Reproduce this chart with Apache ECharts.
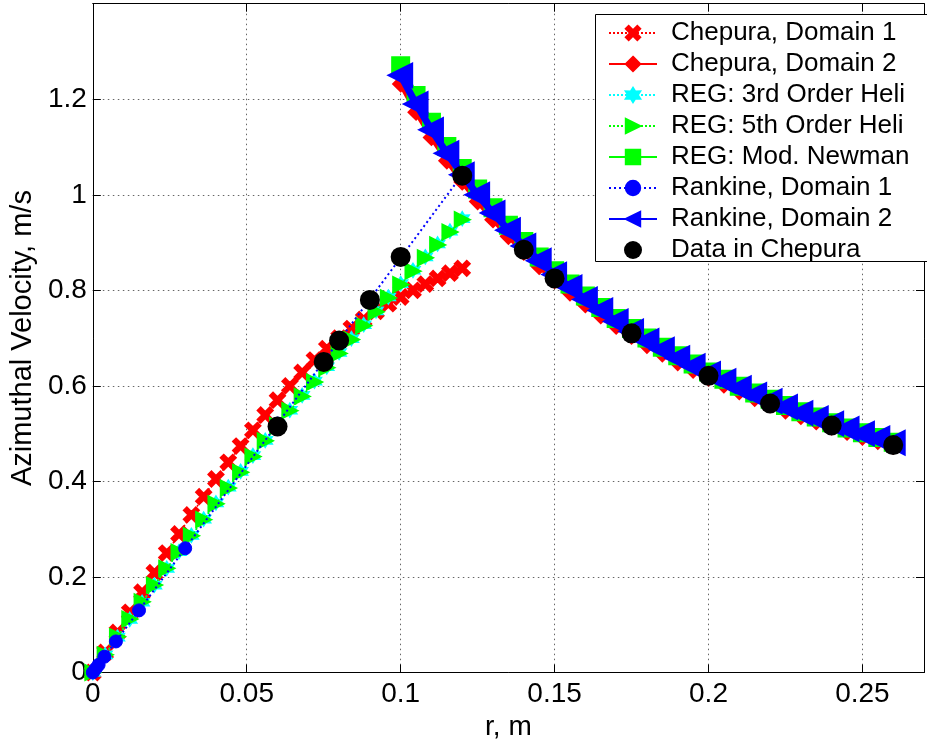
<!DOCTYPE html>
<html><head><meta charset="utf-8">
<script src="https://cdn.jsdelivr.net/npm/echarts@6/dist/echarts.min.js"></script>
<style>html,body{margin:0;padding:0;background:#fff}#c{width:927px;height:749px}</style>
</head><body><div id="c"></div>
<script>
// ---- data ----
const rDomain1 = [0,0.004,0.008,0.012,0.016,0.02,0.024,0.028,0.032,0.036,0.04,0.044,0.048,0.052,0.056,0.06,0.064,0.068,0.072,0.076,0.08,0.084,0.088,0.092,0.096,0.1,0.104,0.108,0.112,0.116,0.12];
const chepuraD1 = [0,0.042,0.084,0.126,0.168,0.209,0.25,0.29,0.33,0.368,0.405,0.44,0.474,0.507,0.539,0.57,0.6,0.628,0.654,0.678,0.7,0.72,0.739,0.756,0.772,0.786,0.8,0.813,0.825,0.836,0.846];
const heli3 = [0,0.037,0.074,0.111,0.147,0.183,0.218,0.253,0.287,0.321,0.355,0.388,0.421,0.454,0.486,0.518,0.549,0.58,0.61,0.64,0.67,0.699,0.728,0.757,0.786,0.814,0.842,0.87,0.897,0.924,0.95];
const heli5 = [0,0.037,0.075,0.112,0.148,0.183,0.218,0.252,0.286,0.32,0.353,0.386,0.419,0.452,0.485,0.517,0.548,0.578,0.608,0.638,0.668,0.697,0.726,0.755,0.784,0.812,0.84,0.868,0.895,0.922,0.948];
const rRankine1 = [0,0.0009375,0.001875,0.00375,0.0075,0.015,0.03,0.06,0.12];
const rankineD1 = [0,0.008,0.016,0.033,0.065,0.13,0.26,0.521,1.042];
const rDomain2 = [0.1,0.105,0.11,0.115,0.12,0.125,0.13,0.135,0.14,0.145,0.15,0.155,0.16,0.165,0.17,0.175,0.18,0.185,0.19,0.195,0.2,0.205,0.21,0.215,0.22,0.225,0.23,0.235,0.24,0.245,0.25,0.255,0.26];
const chepuraD2 = [1.232,1.173,1.12,1.071,1.027,0.986,0.948,0.913,0.88,0.85,0.821,0.795,0.77,0.747,0.725,0.704,0.685,0.667,0.649,0.633,0.617,0.602,0.588,0.574,0.561,0.548,0.536,0.525,0.514,0.503,0.493,0.484,0.474];
const newman = [1.27,1.208,1.152,1.101,1.055,1.012,0.973,0.936,0.902,0.87,0.841,0.813,0.788,0.764,0.741,0.72,0.7,0.681,0.663,0.646,0.629,0.614,0.599,0.585,0.572,0.559,0.546,0.535,0.523,0.512,0.502,0.492,0.482];
const rankineD2 = [1.25,1.19,1.136,1.087,1.042,1.0,0.962,0.926,0.893,0.862,0.833,0.806,0.781,0.758,0.735,0.714,0.694,0.676,0.658,0.641,0.625,0.61,0.595,0.581,0.568,0.556,0.543,0.532,0.521,0.51,0.5,0.49,0.481];
const rData = [0.06,0.075,0.08,0.09,0.1,0.12,0.14,0.15,0.175,0.2,0.22,0.24,0.26];
const vData = [0.515,0.65,0.695,0.78,0.87,1.04,0.885,0.825,0.71,0.621,0.563,0.517,0.476];
const seriesNames = ['Chepura, Domain 1','Chepura, Domain 2','REG: 3rd Order Heli','REG: 5th Order Heli','REG: Mod. Newman','Rankine, Domain 1','Rankine, Domain 2','Data in Chepura'];
const xTicks = [0,0.05,0.1,0.15,0.2,0.25];
const yTicks = [0,0.2,0.4,0.6,0.8,1,1.2];

const pairs = (xs, ys) => xs.map((x, i) => [x, ys[i]]);
const FONT = 'Liberation Sans, Arial, Helvetica, sans-serif';
const X_PATH = 'path://M0,2 L2,0 L5,3 L8,0 L10,2 L7,5 L10,8 L8,10 L5,7 L2,10 L0,8 L3,5 Z';
const HEX_PATH = 'path://M5,0 L6.4,2.6 L9.3,2.5 L7.9,5 L9.3,7.5 L6.4,7.4 L5,10 L3.6,7.4 L0.7,7.5 L2.1,5 L0.7,2.5 L3.6,2.6 Z';
const near = (v, list) => list.some(t => Math.abs(t - v) < 1e-6);
const fmt = v => String(parseFloat(v.toFixed(3)));

const chart = echarts.init(document.getElementById('c'), null, {renderer: 'canvas'});
const axisCommon = {
  axisLine: {show: true, onZero: false, lineStyle: {color: '#000', width: 1}},
  axisTick: {show: true, inside: true, length: 8, lineStyle: {color: '#000'}},
};
const solid = (c, bw) => ({color: c, borderColor: c, borderWidth: bw, opacity: 1});
chart.setOption({
  animation: false,
  backgroundColor: '#fff',
  grid: {left: 91, right: -16, top: 3.7, bottom: 76.5, containLabel: false},
  graphic: [{
    type: 'rect', left: 595, top: 14, z: 50,
    shape: {width: 400, height: 247},
    style: {fill: '#fff', stroke: '#000', lineWidth: 1}
  }],
  xAxis: [{
    type: 'value', min: 0, max: 0.27, interval: 0.05, position: 'bottom',
    name: 'r, m', nameLocation: 'middle', nameGap: 38,
    nameTextStyle: {fontFamily: FONT, fontSize: 28, color: '#000'},
    ...axisCommon,
    axisLabel: {fontFamily: FONT, fontSize: 28, color: '#000', margin: 8,
      formatter: v => near(v, xTicks) ? fmt(v) : ''},
    splitLine: {show: true, lineStyle: {color: '#666', type: [1.5, 3.5], width: 1}}
  }, {
    type: 'value', min: 0, max: 0.27, interval: 0.05, position: 'top',
    ...axisCommon, axisLabel: {show: false}, splitLine: {show: false}
  }],
  yAxis: [{
    type: 'value', min: 0, max: 1.4, interval: 0.2, position: 'left',
    name: 'Azimuthal Velocity, m/s', nameLocation: 'middle', nameGap: 45, nameRotate: 90,
    nameTextStyle: {fontFamily: FONT, fontSize: 29, color: '#000'},
    ...axisCommon,
    axisLabel: {fontFamily: FONT, fontSize: 28, color: '#000', margin: 6,
      formatter: v => near(v, yTicks) ? fmt(v) : ''},
    splitLine: {show: true, lineStyle: {color: '#666', type: [1.5, 3.5], width: 1}}
  }, {
    type: 'value', min: 0, max: 1.4, interval: 0.2, position: 'right',
    ...axisCommon, axisLabel: {show: false}, splitLine: {show: false}
  }],
  legend: {
    orient: 'vertical', left: 595, top: 14, z: 60,
    data: seriesNames,
    backgroundColor: 'transparent', borderWidth: 0,
    padding: [6, 10, 6, 13], itemGap: 5, itemWidth: 48, itemHeight: 18,
    textStyle: {fontFamily: FONT, fontSize: 26, lineHeight: 25, color: '#000', padding: [0, 0, 0, 9]}
  },
  series: [
    {name: seriesNames[0], type: 'line', z: 2, data: pairs(rDomain1, chepuraD1),
      symbol: X_PATH, symbolSize: 15, showAllSymbol: true,
      lineStyle: {color: '#ff0000', width: 1.5, type: [2, 2]}, itemStyle: solid('#ff0000', 2)},
    {name: seriesNames[1], type: 'line', z: 3, data: pairs(rDomain2, chepuraD2),
      symbol: 'diamond', symbolSize: 15, showAllSymbol: true,
      lineStyle: {color: '#ff0000', width: 5}, itemStyle: solid('#ff0000', 2)},
    {name: seriesNames[2], type: 'line', z: 4, data: pairs(rDomain1, heli3),
      symbol: HEX_PATH, symbolSize: 13, showAllSymbol: true,
      lineStyle: {color: '#00ffff', width: 1.5, type: [2, 2]}, itemStyle: solid('#00ffff', 2)},
    {name: seriesNames[3], type: 'line', z: 5, data: pairs(rDomain1, heli5),
      symbol: 'triangle', symbolRotate: -90, symbolSize: 15, showAllSymbol: true,
      lineStyle: {color: '#00ff00', width: 1.5, type: [2, 2]}, itemStyle: solid('#00ff00', 2)},
    {name: seriesNames[4], type: 'line', z: 6, data: pairs(rDomain2, newman),
      symbol: 'rect', symbolSize: 16, showAllSymbol: true,
      lineStyle: {color: '#00ff00', width: 5}, itemStyle: solid('#00ff00', 3)},
    {name: seriesNames[5], type: 'line', z: 7, data: pairs(rRankine1, rankineD1),
      symbol: 'circle', symbolSize: 13, showAllSymbol: true,
      lineStyle: {color: '#0000ff', width: 2, type: [2, 3]},
      itemStyle: solid('#0000ff', 1)},
    {name: seriesNames[6], type: 'line', z: 8, data: pairs(rDomain2, rankineD2),
      symbol: 'triangle', symbolRotate: 90, symbolSize: 22, showAllSymbol: true,
      lineStyle: {color: '#0000ff', width: 7}, itemStyle: solid('#0000ff', 3)},
    {name: seriesNames[7], type: 'scatter', z: 9, data: pairs(rData, vData),
      symbol: 'circle', symbolSize: 20, itemStyle: {color: '#000', opacity: 1}}
  ]
});
</script></body></html>
